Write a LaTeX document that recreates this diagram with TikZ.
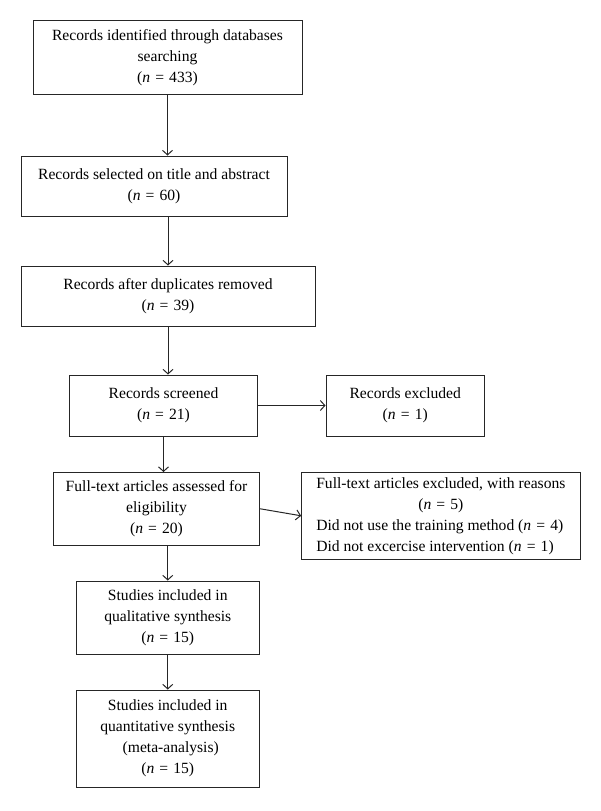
\documentclass[tikz,border=0pt]{standalone}
\usepackage{fontspec}
\setmainfont{Liberation Serif}
\usetikzlibrary{arrows.meta}
\tikzset{
  box/.style={draw=black!85, line width=1pt, inner sep=0pt, align=center,
    font=\fontsize{15.6}{21}\selectfont},
  arr/.style={draw=black!85, line width=1pt, -{Straight Barb[length=4.5pt,width=10pt]}}
}
\newcommand{\nn}[1]{(\textit{n}\hspace{0.33em}=\hspace{0.33em}#1)}
\begin{document}
\begin{tikzpicture}[x=1pt,y=-1pt]
\useasboundingbox (0,0) rectangle (600,811);
\node[box, minimum width=269pt, minimum height=74pt] (b1) at (167.5,57.5)
  {Records identified through databases\\searching\hspace{22pt}\\\nn{433}\hspace{22pt}};
\node[box, minimum width=266pt, minimum height=60pt] (b2) at (154,186)
  {Records selected on title and abstract\\\nn{60}};
\node[box, minimum width=294pt, minimum height=60pt] (b3) at (168,296)
  {Records after duplicates removed\\\nn{39}};
\node[box, minimum width=188pt, minimum height=61pt] (b4) at (163.5,405.5)
  {Records screened\\\nn{21}};
\node[box, minimum width=158.5pt, minimum height=61pt] (e1) at (405.25,405.5)
  {Records excluded\\\nn{1}};
\node[box, minimum width=206pt, minimum height=72.5pt] (b5) at (156.5,508.75)
  {Full-text articles assessed for\\eligibility\hspace{8pt}\\\nn{20}\hspace{14pt}};
\node[box, minimum width=278.3pt, minimum height=87pt] (e2) at (440.85,515.8)
  {\begin{tabular}{@{}c@{}}
   Full-text articles excluded, with reasons\\
   \nn{5}\hspace{28pt}\\
   \multicolumn{1}{@{}l@{}}{Did not use the training method \nn{4}}\\
   \multicolumn{1}{@{}l@{}}{Did not excercise intervention \nn{1}}
   \end{tabular}};
\node[box, minimum width=183.5pt, minimum height=73pt] (b6) at (167.75,617.5)
  {Studies included in\\qualitative synthesis\\\nn{15}};
\node[box, minimum width=183.5pt, minimum height=97pt] (b7) at (167.75,738.5)
  {Studies included in\\quantitative synthesis\\\hspace{6pt}(meta-analysis)\\\nn{15}};
\draw[arr] (b1.south) -- (b1.south |- b2.north);
\draw[arr] (b3.north |- b2.south) -- (b3.north);
\draw[arr] (b3.south) -- (b3.south |- b4.north);
\draw[arr] (b4.south) -- (b4.south |- b5.north);
\draw[arr] (b6.north |- b5.south) -- (b6.north);
\draw[arr] (b6.south) -- (b7.north);
\draw[arr] (b4.east) -- (e1.west);
\draw[arr] (b5.east) -- (e2.west);
\end{tikzpicture}
\end{document}
